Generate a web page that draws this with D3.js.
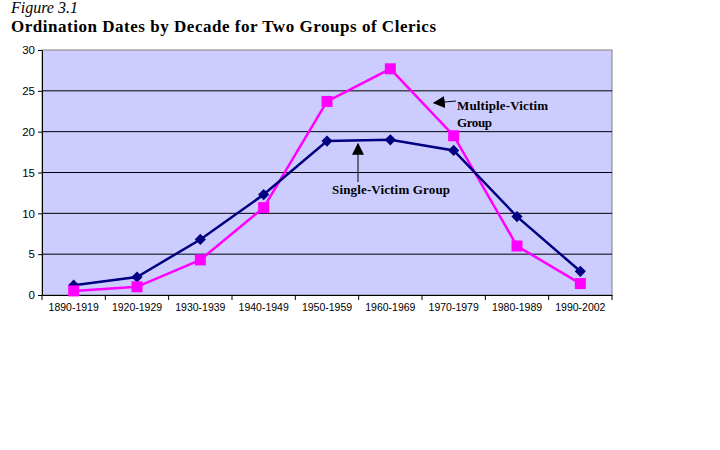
<!DOCTYPE html>
<html lang="en">
<head>
    <meta charset="UTF-8">
    <title>Figure 3.1</title>
    <script src="https://d3js.org/d3.v7.min.js"></script>
    <style>
        body { margin: 0; background: #fff; }
    </style>
</head>
<body>
    <script>
        // chart data
        var decades = ['1890-1919', '1920-1929', '1930-1939', '1940-1949', '1950-1959',
                       '1960-1969', '1970-1979', '1980-1989', '1990-2002'];
        var single_victim = [1.2, 2.2, 6.8, 12.3, 18.85, 19.0, 17.7, 9.6, 2.9];
        var multiple_victim = [0.5, 1.0, 4.3, 10.7, 23.7, 27.7, 19.5, 6.0, 1.4];
        var y_ticks = [0, 5, 10, 15, 20, 25, 30];

        var width = 720;
        var height = 450;
        // plot box (not "top": that name belongs to window)
        var plot_left = 42, plot_right = 612, plot_top = 50, plot_bottom = 295;

        var svg = d3.select('body').append('svg')
            .attr('width', width)
            .attr('height', height);

        // titles
        svg.append('text')
            .attr('x', 11).attr('y', 13)
            .style('font-family', 'Liberation Serif, serif')
            .style('font-style', 'italic')
            .style('font-size', '16px')
            .text('Figure 3.1');
        svg.append('text')
            .attr('x', 11).attr('y', 32)
            .attr('textLength', 425)
            .style('font-family', 'Liberation Serif, serif')
            .style('font-weight', 'bold')
            .style('font-size', '17px')
            .text('Ordination Dates by Decade for Two Groups of Clerics');

        var x = d3.scaleBand().domain(decades).range([plot_left, plot_right]);
        var y = d3.scaleLinear().domain([0, 30]).range([plot_bottom, plot_top]);

        // plot background
        svg.append('rect')
            .attr('x', plot_left).attr('y', plot_top)
            .attr('width', plot_right - plot_left).attr('height', plot_bottom - plot_top)
            .attr('fill', '#ccccff')
            .attr('stroke', '#808080');

        // gridlines
        svg.append('g').selectAll('line')
            .data(y_ticks.filter(function (d) { return d > 0 && d < 30; }))
            .enter().append('line')
            .attr('x1', plot_left).attr('x2', plot_right)
            .attr('y1', function (d) { return y(d); })
            .attr('y2', function (d) { return y(d); })
            .attr('stroke', '#000')
            .attr('stroke-width', 1);

        // y axis
        var y_axis = svg.append('g')
            .attr('transform', 'translate(' + plot_left + ',0)')
            .call(d3.axisLeft(y).tickValues(y_ticks).tickSize(4).tickSizeOuter(0));
        y_axis.select('.domain').attr('stroke', '#000');
        y_axis.selectAll('text')
            .style('font-family', 'Liberation Sans, Arial, sans-serif')
            .style('font-size', '11.5px')
            .attr('fill', '#000');

        // x axis, ticks between the categories
        var x_axis = svg.append('g')
            .attr('transform', 'translate(0,' + plot_bottom + ')')
            .call(d3.axisBottom(x).tickSize(0).tickPadding(9));
        x_axis.select('.domain').attr('stroke', '#000');
        x_axis.selectAll('text')
            .style('font-family', 'Liberation Sans, Arial, sans-serif')
            .style('font-size', '10.5px')
            .attr('fill', '#000');
        x_axis.selectAll('.sep')
            .data(decades.concat(['end']))
            .enter().append('line')
            .attr('class', 'sep')
            .attr('x1', function (d, i) { return plot_left + i * x.bandwidth(); })
            .attr('x2', function (d, i) { return plot_left + i * x.bandwidth(); })
            .attr('y1', 0).attr('y2', 5)
            .attr('stroke', '#000');

        function cx(d, i) { return x(decades[i]) + x.bandwidth() / 2; }

        var line = d3.line()
            .x(function (d, i) { return cx(d, i); })
            .y(function (d) { return y(d); });

        // multiple-victim series
        svg.append('path')
            .datum(multiple_victim)
            .attr('d', line)
            .attr('fill', 'none')
            .attr('stroke', '#ff00ff')
            .attr('stroke-width', 2.5);

        // single-victim series
        svg.append('path')
            .datum(single_victim)
            .attr('d', line)
            .attr('fill', 'none')
            .attr('stroke', '#000080')
            .attr('stroke-width', 2.5);

        svg.append('g').selectAll('path')
            .data(single_victim)
            .enter().append('path')
            .attr('d', d3.symbol().type(d3.symbolDiamond2).size(80))
            .attr('transform', function (d, i) { return 'translate(' + cx(d, i) + ',' + y(d) + ')'; })
            .attr('fill', '#000080');

        svg.append('g').selectAll('rect')
            .data(multiple_victim)
            .enter().append('rect')
            .attr('x', function (d, i) { return cx(d, i) - 5.5; })
            .attr('y', function (d) { return y(d) - 5.5; })
            .attr('width', 11).attr('height', 11)
            .attr('fill', '#ff00ff');

        // annotations
        var defs = svg.append('defs');
        defs.append('marker')
            .attr('id', 'head')
            .attr('viewBox', '0 0 10 10')
            .attr('refX', 9).attr('refY', 5)
            .attr('markerWidth', 12).attr('markerHeight', 12)
            .attr('markerUnits', 'userSpaceOnUse')
            .attr('orient', 'auto')
            .append('path')
            .attr('d', 'M0,0 L10,5 L0,10 z')
            .attr('fill', '#000');

        svg.append('line')
            .attr('x1', 456).attr('y1', 101)
            .attr('x2', 434).attr('y2', 103)
            .attr('stroke', '#000').attr('stroke-width', 1)
            .attr('marker-end', 'url(#head)');
        svg.append('line')
            .attr('x1', 358).attr('y1', 182)
            .attr('x2', 358).attr('y2', 144)
            .attr('stroke', '#000').attr('stroke-width', 1)
            .attr('marker-end', 'url(#head)');

        var note_style = function (sel) {
            sel.style('font-family', 'Liberation Serif, serif')
               .style('font-weight', 'bold')
               .style('font-size', '13px')
               .attr('fill', '#000');
        };
        svg.append('text').attr('x', 457).attr('y', 110).attr('textLength', 91).text('Multiple-Victim').call(note_style);
        svg.append('text').attr('x', 457).attr('y', 127).attr('textLength', 35).text('Group').call(note_style);
        svg.append('text').attr('x', 332).attr('y', 194).attr('textLength', 118).text('Single-Victim Group').call(note_style);
    </script>
</body>
</html>
